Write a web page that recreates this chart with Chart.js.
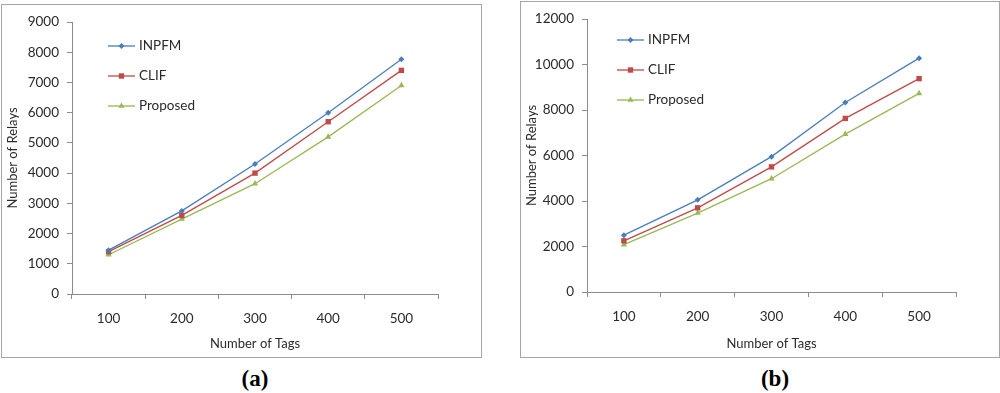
<!DOCTYPE html>
<html>
<head>
<meta charset="utf-8">
<script src="https://cdn.jsdelivr.net/npm/chart.js@4/dist/chart.umd.min.js"></script>
<style>
  body { margin: 0; background: #fff; width: 1000px; height: 393px; position: relative; overflow: hidden; }
  .box { position: absolute; border: 1px solid #a6a6a6; box-sizing: border-box; }
  .wrap { position: absolute; }
  .cap { position: absolute; top: 366px; font: bold 23px "Liberation Serif", serif; color: #000; transform: translateX(-50%); }
</style>
</head>
<body>
<div class="box" style="left:1px;top:4px;width:481px;height:354px"></div>
<div class="box" style="left:520px;top:1px;width:480px;height:357px"></div>
<div class="wrap" style="left:2px;top:5px;width:478px;height:351px"><canvas id="chartA"></canvas></div>
<div class="wrap" style="left:521px;top:2px;width:477px;height:354px"><canvas id="chartB"></canvas></div>
<div class="cap" style="left:255px">(a)</div>
<div class="cap" style="left:775px">(b)</div>
<script>
// ---------- data ----------
const tags = ['100', '200', '300', '400', '500'];
const seriesNames = ['INPFM', 'CLIF', 'Proposed'];

// (a)
const inpfmA    = [1450, 2750, 4300, 6000, 7770];
const clifA     = [1400, 2600, 4000, 5700, 7400];
const proposedA = [1300, 2480, 3650, 5200, 6900];

// (b)
const inpfmB    = [2500, 4050, 5950, 8330, 10280];
const clifB     = [2250, 3700, 5500, 7630, 9380];
const proposedB = [2080, 3470, 4980, 6940, 8730];

const colors = ['#4a7ebb', '#be4b48', '#98b954'];
const markers = ['rectRot', 'rect', 'triangle'];
const radii = [3, 3.8, 3.6];

const FONT = 'Lato, "Open Sans", sans-serif';
const TXT = '#2b2b2b';
const AXIS = '#8c8c8c';

// legend drawn inside plot area (line with marker in the middle)
const innerLegend = {
  id: 'innerLegend',
  afterDraw(chart, args, opts) {
    const { ctx, chartArea } = chart;
    ctx.save();
    chart.data.datasets.forEach((ds, i) => {
      const x0 = chartArea.left + opts.x;
      const y = chartArea.top + opts.y + i * opts.gap;
      ctx.strokeStyle = ds.borderColor;
      ctx.lineWidth = 1.3;
      ctx.beginPath();
      ctx.moveTo(x0, y);
      ctx.lineTo(x0 + opts.len, y);
      ctx.stroke();
      ctx.fillStyle = ds.pointBackgroundColor;
      Chart.helpers.drawPoint(ctx, {
        pointStyle: ds.pointStyle, radius: ds.pointRadius, rotation: 0, borderWidth: 0
      }, x0 + opts.len / 2, y);
      ctx.fillStyle = TXT;
      ctx.font = '13.5px ' + FONT;
      ctx.textBaseline = 'middle';
      ctx.fillText(ds.label, x0 + opts.len + 4, y);
    });
    ctx.restore();
  }
};

function makeChart(id, series, yMax, yStep, yWidth, xHeight, padRight, padTop, legendPos) {
  new Chart(document.getElementById(id), {
    type: 'line',
    data: {
      labels: tags,
      datasets: series.map((d, i) => ({
        label: seriesNames[i],
        data: d,
        borderColor: colors[i],
        backgroundColor: colors[i],
        pointBackgroundColor: colors[i],
        pointBorderColor: colors[i],
        pointBorderWidth: 0,
        pointStyle: markers[i],
        pointRadius: radii[i],
        borderWidth: 1.3,
        tension: 0
      }))
    },
    options: {
      responsive: true,
      maintainAspectRatio: false,
      animation: false,
      layout: { padding: { left: 0, right: padRight, top: padTop, bottom: 0 } },
      plugins: {
        legend: { display: false },
        tooltip: { enabled: false },
        innerLegend: legendPos
      },
      scales: {
        x: {
          offset: true,
          grid: { offset: true, drawOnChartArea: false, drawTicks: true, tickLength: 5, color: AXIS },
          border: { color: AXIS },
          ticks: { color: TXT, font: { family: FONT, size: 13.5 }, padding: 12, maxRotation: 0 },
          title: { display: true, text: 'Number of Tags', color: TXT, font: { family: FONT, size: 13 }, padding: 4 },
          afterFit: s => { s.height = xHeight; }
        },
        y: {
          min: 0, max: yMax,
          grid: { drawOnChartArea: false, drawTicks: true, tickLength: 5, color: AXIS },
          border: { color: AXIS },
          ticks: { stepSize: yStep, color: TXT, font: { family: FONT, size: 13.5 }, padding: 8,
                   callback: v => String(v) },
          title: { display: true, text: 'Number of Relays', color: TXT, font: { family: FONT, size: 13 }, padding: 3 },
          afterFit: s => { s.width = yWidth; }
        }
      }
    },
    plugins: [innerLegend]
  });
}

makeChart('chartA', [inpfmA, clifA, proposedA], 9000, 1000, 70, 62, 42, 17, { x: 36, y: 24, gap: 30, len: 27 });
makeChart('chartB', [inpfmB, clifB, proposedB], 12000, 2000, 66, 64, 42, 17, { x: 30, y: 21, gap: 30, len: 27 });
</script>
</body>
</html>
